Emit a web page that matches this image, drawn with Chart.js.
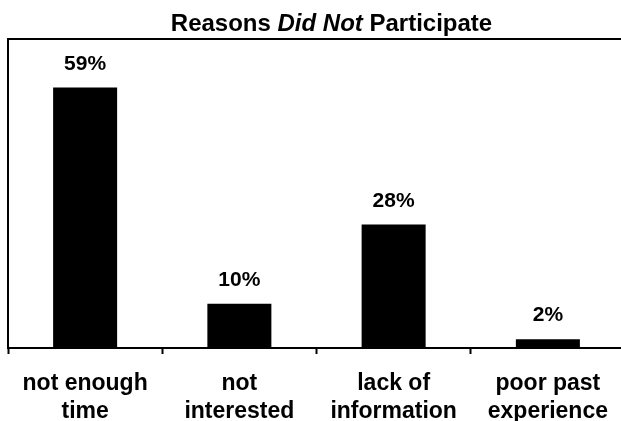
<!DOCTYPE html>
<html>
<head>
<meta charset="utf-8">
<script src="https://cdn.jsdelivr.net/npm/chart.js@4"></script>
<style>
  html, body { margin: 0; padding: 0; background: #fff; overflow: hidden; }
  #wrap { width: 630px; height: 421px; position: relative; }
</style>
</head>
<body>
<div id="wrap"><canvas id="c"></canvas></div>
<script>
// Survey: reasons given for not participating (percent of respondents)
const categories = [
  ['not enough', 'time'],
  ['not', 'interested'],
  ['lack of', 'information'],
  ['poor past', 'experience']
];
const percents = [59, 10, 28, 2];
const axisMax = 70;
const titleParts = [
  { text: 'Reasons ', italic: false },
  { text: 'Did Not', italic: true },
  { text: ' Participate', italic: false }
];

const FONT = '"Liberation Sans", Arial, Helvetica, sans-serif';

// Title with an italic phrase in the middle
const titlePlugin = {
  id: 'mixedTitle',
  afterDraw(chart) {
    const ctx = chart.ctx;
    ctx.save();
    ctx.fillStyle = '#000';
    ctx.textBaseline = 'alphabetic';
    const size = 24;
    let total = 0;
    const widths = titleParts.map(p => {
      ctx.font = (p.italic ? 'italic ' : '') + 'bold ' + size + 'px ' + FONT;
      const w = ctx.measureText(p.text).width;
      total += w;
      return w;
    });
    let x = 331.5 - total / 2;
    titleParts.forEach((p, i) => {
      ctx.font = (p.italic ? 'italic ' : '') + 'bold ' + size + 'px ' + FONT;
      ctx.fillText(p.text, x, 31);
      x += widths[i];
    });
    ctx.restore();
  }
};

// Percent labels above each bar
const valueLabels = {
  id: 'valueLabels',
  afterDatasetsDraw(chart) {
    const ctx = chart.ctx;
    const meta = chart.getDatasetMeta(0);
    ctx.save();
    ctx.font = 'bold 21px ' + FONT;
    ctx.fillStyle = '#000';
    ctx.textAlign = 'center';
    ctx.textBaseline = 'middle';
    meta.data.forEach((bar, i) => {
      ctx.fillText(percents[i] + '%', bar.x, bar.y - 23.5);
    });
    ctx.restore();
  }
};

new Chart(document.getElementById('c'), {
  type: 'bar',
  data: {
    labels: categories,
    datasets: [{
      data: percents,
      backgroundColor: '#000',
      borderWidth: 0,
      categoryPercentage: 1,
      barPercentage: 0.415
    }]
  },
  options: {
    responsive: true,
    maintainAspectRatio: false,
    animation: false,
    devicePixelRatio: 1,
    layout: { padding: { top: 39, left: 8, right: 5, bottom: 0 } },
    plugins: {
      legend: { display: false },
      title: { display: false },
      tooltip: { enabled: false }
    },
    scales: {
      x: {
        afterFit(scale) { scale.height = 73; },
        grid: {
          offset: true,
          drawOnChartArea: false,
          drawTicks: true,
          tickLength: 6,
          tickColor: '#000',
          tickWidth: 2
        },
        border: { display: true, color: '#000', width: 2 },
        ticks: {
          color: '#000',
          font: { family: FONT, size: 23, weight: 'bold', lineHeight: 1.22 },
          padding: 16,
          maxRotation: 0,
          autoSkip: false
        }
      },
      y: {
        min: 0,
        max: axisMax,
        ticks: { display: false, stepSize: 70 },
        grid: {
          drawTicks: false,
          color: ctx => (ctx.tick && ctx.tick.value === axisMax ? '#000' : 'rgba(0,0,0,0)'),
          lineWidth: 2
        },
        border: { display: true, color: '#000', width: 2 }
      }
    }
  },
  plugins: [titlePlugin, valueLabels]
});
</script>
</body>
</html>
